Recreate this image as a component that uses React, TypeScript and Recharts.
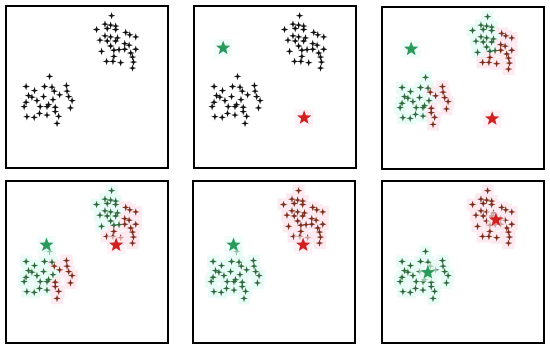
import React from 'react';
import { ScatterChart, Scatter, XAxis, YAxis } from 'recharts';

// Upper-right cluster (x, y in a 0..100 panel space)
const upperCluster: [number, number][] = [
  [65.2, 94.0], [61.1, 88.8], [64.6, 88.2], [67.7, 87.6], [55.9, 85.5], [62.5, 86.1],
  [67.7, 85.5], [73.9, 83.7], [76.4, 82.2], [80.1, 80.9], [61.1, 81.6], [64.6, 80.9],
  [68.8, 80.3], [58.0, 78.9], [62.5, 78.4], [67.7, 78.4], [73.3, 76.8], [76.0, 75.8],
  [64.6, 75.3], [69.8, 73.1], [66.6, 72.7], [73.3, 73.3], [80.1, 73.3], [77.0, 71.0],
  [59.0, 72.0], [66.6, 68.9], [78.1, 68.5], [62.1, 65.8], [66.0, 65.8], [70.8, 65.0],
  [78.7, 65.4], [78.1, 61.7],
];

// Lower-left cluster
const lowerCluster: [number, number][] = [
  [26.9, 56.5], [12.4, 50.3], [23.8, 50.3], [28.4, 49.9], [37.3, 50.9], [37.7, 47.4],
  [17.6, 47.8], [29.8, 47.4], [33.1, 45.2], [13.9, 44.7], [16.0, 43.7], [23.2, 44.1],
  [38.7, 44.1], [40.8, 41.6], [29.0, 42.2], [12.4, 40.6], [19.1, 41.6], [26.3, 39.1],
  [30.4, 37.5], [11.2, 37.9], [21.1, 37.9], [25.3, 37.9], [39.8, 37.1], [20.7, 33.7],
  [25.3, 32.7], [30.4, 34.8], [12.9, 31.7], [17.4, 31.2], [32.5, 31.9], [31.5, 27.5],
];

// First assignment (g = green centroid, r = red centroid)
const upperLabelsStep1 = 'gggggggrrrggggggrrgggrrrgrrrrrrr'.split('');
const lowerLabelsStep1 = 'ggggrrgrrgggrrggggrgggrggrggrr'.split('');
// Second assignment: clusters fully separated
const upperLabelsStep2 = upperCluster.map(() => 'r');
const lowerLabelsStep2 = lowerCluster.map(() => 'g');

// Centroid positions (green, red) at each step
const centroidsInitial = [ { x: 18, y: 74, k: 'g' }, { x: 68, y: 31, k: 'r' } ];
const centroidsStep2 = [ { x: 25, y: 60.5, k: 'g' }, { x: 68, y: 60.5, k: 'r' } ];
const centroidsFinal = [ { x: 28.3, y: 43.5, k: 'g' }, { x: 70.3, y: 76, k: 'r' } ];

type Centroid = { x: number; y: number; k: string };

const build = (upperLabels: string[] | null, lowerLabels: string[] | null) => [
  ...upperCluster.map(([x, y], i) => ({ x, y, k: upperLabels ? upperLabels[i] : 'n' })),
  ...lowerCluster.map(([x, y], i) => ({ x, y, k: lowerLabels ? lowerLabels[i] : 'n' })),
];

const POINT_COLORS: Record<string, string> = { n: '#111111', g: '#2f6a3c', r: '#7d2e1c' };
const HALO_COLORS: Record<string, string> = { g: '#e8fbf6', r: '#fdeaf1' };
const STAR_COLORS: Record<string, string> = { g: '#2a9a5c', r: '#d41f1f' };

const Sparkle = (props: any) => {
  const { cx, cy, payload } = props;
  if (cx == null || cy == null) return null;
  const a = 3.8, b = 0.9;
  const d = `M${cx},${cy - a} L${cx + b},${cy - b} L${cx + a},${cy} L${cx + b},${cy + b} L${cx},${cy + a} L${cx - b},${cy + b} L${cx - a},${cy} L${cx - b},${cy - b} Z`;
  return <path d={d} fill={POINT_COLORS[payload.k || 'n']} />;
};

const Halo = (props: any) => {
  const { cx, cy, payload } = props;
  if (cx == null || cy == null) return null;
  return <rect x={cx - 6} y={cy - 6} width={12} height={12} fill={HALO_COLORS[payload.k]} />;
};

const Star = (props: any) => {
  const { cx, cy, payload } = props;
  if (cx == null || cy == null) return null;
  const R = 7.5, r = 3.2;
  const pts: string[] = [];
  for (let i = 0; i < 10; i++) {
    const rad = i % 2 === 0 ? R : r;
    const ang = -Math.PI / 2 + (i * Math.PI) / 5;
    pts.push(`${cx + rad * Math.cos(ang)},${cy + rad * Math.sin(ang)}`);
  }
  return (
    <g>
      <rect x={cx - 9} y={cy - 9} width={18} height={18} fill={HALO_COLORS[payload.k]} opacity={0.6} />
      <polygon points={pts.join(' ')} fill={STAR_COLORS[payload.k]} />
    </g>
  );
};

type Panel = { left: number; top: number; points: any[]; colored: boolean; stars: Centroid[] | null };

const panels: Panel[] = [
  { left: 5, top: 5, points: build(null, null), colored: false, stars: null },
  { left: 193, top: 5, points: build(null, null), colored: false, stars: centroidsInitial },
  { left: 381, top: 6, points: build(upperLabelsStep1, lowerLabelsStep1), colored: true, stars: centroidsInitial },
  { left: 5, top: 180, points: build(upperLabelsStep1, lowerLabelsStep1), colored: true, stars: centroidsStep2 },
  { left: 192, top: 180, points: build(upperLabelsStep2, lowerLabelsStep2), colored: true, stars: centroidsStep2 },
  { left: 381, top: 180, points: build(upperLabelsStep2, lowerLabelsStep2), colored: true, stars: centroidsFinal },
];

export default function App() {
  return (
    <div style={{ position: 'absolute', left: 0, top: 0, width: 550, height: 349, background: '#fff', overflow: 'hidden' }}>
      {panels.map((p, i) => (
        <div key={i} style={{ position: 'absolute', left: p.left, top: p.top, width: 164, height: 164 }}>
          <ScatterChart width={164} height={164} margin={{ top: 1, right: 1, bottom: 1, left: 1 }}>
            <XAxis type="number" dataKey="x" domain={[0, 100]} hide />
            <YAxis type="number" dataKey="y" domain={[0, 100]} hide />
            {p.colored && (
              <Scatter data={p.points} shape={Halo} isAnimationActive={false} />
            )}
            <Scatter data={p.points} shape={Sparkle} isAnimationActive={false} />
            {p.stars && <Scatter data={p.stars} shape={Star} isAnimationActive={false} />}
          </ScatterChart>
          <div style={{ position: 'absolute', left: 0, top: 0, width: 164, height: 164, border: '2px solid #000', boxSizing: 'border-box', pointerEvents: 'none' }} />
        </div>
      ))}
    </div>
  );
}
